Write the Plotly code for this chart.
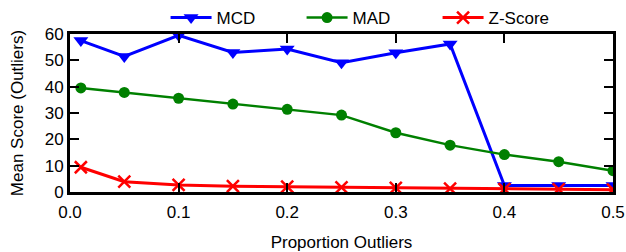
import plotly.graph_objects as go

proportions = [0.01, 0.05, 0.1, 0.15, 0.2, 0.25, 0.3, 0.35, 0.4, 0.45, 0.5]
mcd = [57.5, 51.5, 59.5, 53.0, 54.3, 49.1, 52.9, 56.2, 2.5, 2.5, 2.5]
mad = [39.5, 37.8, 35.6, 33.4, 31.4, 29.2, 22.5, 17.8, 14.2, 11.5, 8.1]
zscore = [9.4, 3.9, 2.7, 2.2, 2.0, 1.8, 1.6, 1.3, 1.1, 1.0, 0.9]

x_ticks = [0.0, 0.1, 0.2, 0.3, 0.4, 0.5]
x_tick_labels = ["0.0", "0.1", "0.2", "0.3", "0.4", "0.5"]
y_ticks = [0, 10, 20, 30, 40, 50, 60]

FONT = "Liberation Sans, Arial, Helvetica"

fig = go.Figure()
fig.add_trace(go.Scatter(x=proportions, y=mcd, name="MCD", mode="lines+markers",
                         line=dict(color="#0000ff", width=3),
                         marker=dict(symbol="triangle-down", size=13, color="#0000ff")))
fig.add_trace(go.Scatter(x=proportions, y=mad, name="MAD", mode="lines+markers",
                         line=dict(color="#008000", width=2.5),
                         marker=dict(symbol="circle", size=11, color="#008000")))
fig.add_trace(go.Scatter(x=proportions, y=zscore, name="Z-Score", mode="lines+markers",
                         line=dict(color="#ff0000", width=3),
                         marker=dict(symbol="x-thin", size=12, color="#ff0000",
                                     line=dict(color="#ff0000", width=2.5))))

axis_common = dict(showline=True, linecolor="black", linewidth=3, mirror="allticks",
                   ticks="inside", ticklen=9, tickwidth=1.5, tickcolor="black",
                   showgrid=False, zeroline=False,
                   tickfont=dict(family=FONT, size=17, color="black"))

fig.update_layout(
    width=626, height=252,
    margin=dict(l=70, r=13, t=34, b=60, autoexpand=False),
    paper_bgcolor="white", plot_bgcolor="white",
    font=dict(family=FONT, size=17, color="black"),
    showlegend=True,
    legend=dict(orientation="h", x=0.176, xanchor="left", y=1, yref="container",
                yanchor="top", font=dict(family=FONT, size=17),
                bgcolor="rgba(0,0,0,0)", itemwidth=41,
                entrywidth=80, entrywidthmode="pixels"),
    xaxis=dict(range=[0, 0.5], tickvals=x_ticks, ticktext=x_tick_labels,
               ticklabelstandoff=3,
               title=dict(text="Proportion Outliers", font=dict(family=FONT, size=17), standoff=16),
               **axis_common),
    yaxis=dict(range=[0, 60], tickvals=y_ticks,
               title=dict(text="Mean Score (Outliers)", font=dict(family=FONT, size=17), standoff=17),
               **axis_common),
)

fig.write_html("out.html", config={"displayModeBar": False},
               post_script="document.body.style.margin='0';document.body.style.overflow='hidden';")
